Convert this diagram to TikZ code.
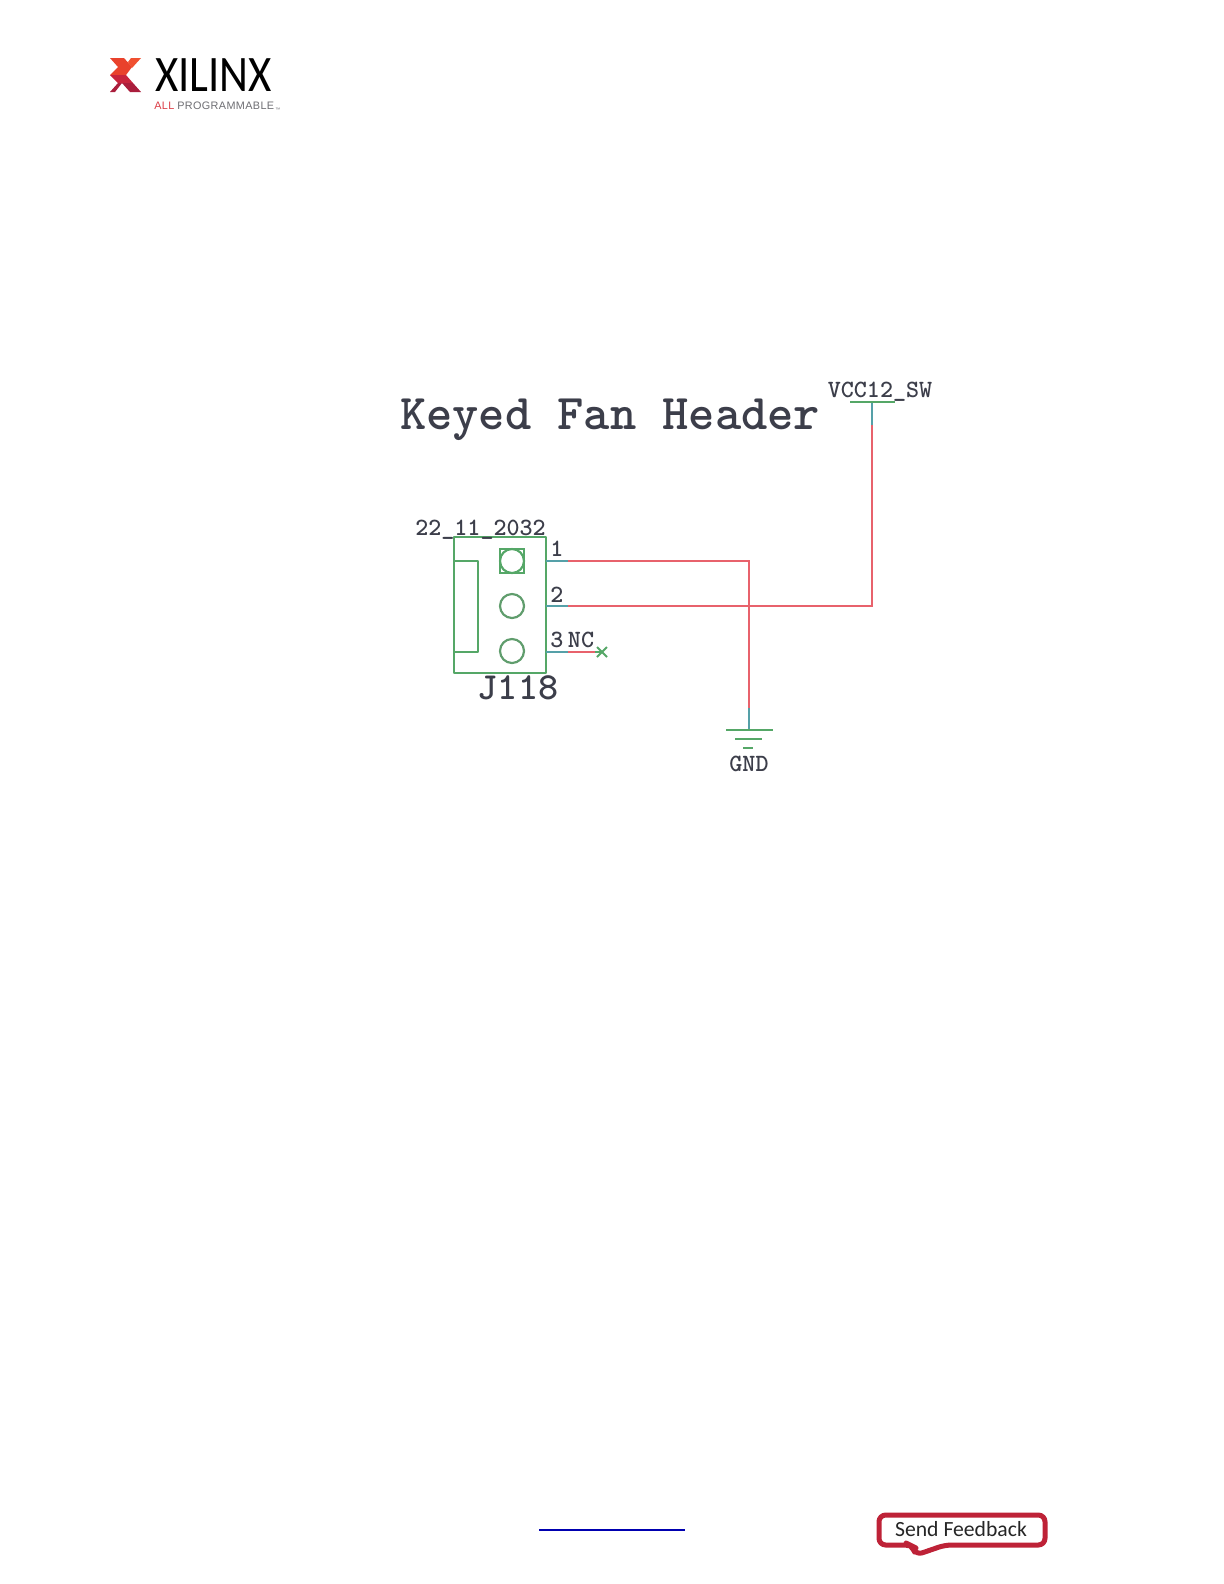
\documentclass[tikz,border=0pt]{standalone}
\usepackage{fontspec}
\setmainfont{Liberation Sans}
\newfontfamily\fbfont{Carlito}
\newfontfamily\xlx[FakeStretch=0.875]{Carlito}
\newfontfamily\allp[LetterSpace=3.5]{Liberation Sans}
\newcommand{\schfont}[2]{\ttfamily\bfseries\fontsize{#1}{#1}\selectfont\addfontfeature{FakeBold=#2}}
\definecolor{sym}{HTML}{55A767}
\definecolor{stub}{HTML}{55A0A8}
\definecolor{wire}{HTML}{E8626C}
\definecolor{ink}{HTML}{3C3E4A}
\definecolor{fb}{HTML}{BE2237}
\tikzset{
  lbl/.style={anchor=base,inner sep=0pt,outer sep=0pt,text=ink},
  small/.style={lbl,font=\schfont{14.9}{2}},
  symline/.style={draw=sym,line width=1.7pt},
  stubline/.style={draw=stub,line width=1.55pt},
  wireline/.style={draw=wire,line width=1.55pt},
}
\begin{document}
\begin{tikzpicture}[x=0.6pt,y=-0.6pt]
\useasboundingbox (0,0) rectangle (1224,1584);
\fill[fill=white] (0,0) rectangle (1224,1584);
% logo
\fill[fill={rgb,255:red,233;green,66;blue,44}] (110,58)--(124,58)--(132,67)--(126,75)--(110,75)--(118,67)--cycle;
\fill[fill={rgb,255:red,240;green,80;blue,48}] (131,58)--(141,58)--(132,68)--(128,62)--cycle;
\fill[fill={rgb,255:red,200;green,36;blue,60}] (110,75)--(126,75)--(133,83)--(122,83)--(118,83)--cycle;
\fill[fill={rgb,255:red,170;green,30;blue,60}] (122,83)--(133,83)--(141,92)--(130,92)--cycle;
\fill[fill={rgb,255:red,170;green,30;blue,60}] (110,92)--(118,83)--(122,83)--(115,92)--cycle;
\node[anchor=base west,inner sep=0pt,font=\xlx\fontsize{30.7}{31}\selectfont] (xilinx) at (155,91) {XILINX};
\node[anchor=base west,inner sep=0pt,text={rgb,255:red,220;green,60;blue,70},font=\allp\fontsize{6.5}{7}\selectfont] (all) at (154,109) {ALL};
\node[anchor=base west,inner sep=0pt,text={rgb,255:red,110;green,110;blue,115},font=\allp\fontsize{6.5}{7}\selectfont] (prog) at (177,109) {PROGRAMMABLE};
\node[anchor=base west,inner sep=0pt,text={rgb,255:red,110;green,110;blue,115},font=\fontsize{3}{3}\selectfont] (tm) at (275,111) {™};
% title
\node[lbl,font=\schfont{30}{1.5}] (title) at (610,429) {Keyed Fan Header};
% connector body
\draw[symline,line join=round] (454,537) rectangle (546,673);
\draw[symline,line join=round] (454,561) -- (478,561) -- (478,652) -- (454,652);
\draw[symline] (500,549) rectangle (524,573);
\node[draw=sym,line width=1.3pt,circle,minimum size=14.4pt,inner sep=0pt] (p1) at (512,561) {};
\node[draw=sym!75!gray,line width=1.3pt,circle,minimum size=14.4pt,inner sep=0pt] (p2) at (512,606) {};
\node[draw=sym!75!gray,line width=1.3pt,circle,minimum size=14.4pt,inner sep=0pt] (p3) at (512,651) {};
% coordinates
\coordinate (a1) at (546,561); \coordinate (b1) at (568,561);
\coordinate (a2) at (546,606); \coordinate (b2) at (568,606);
\coordinate (a3) at (546,652); \coordinate (b3) at (568,652);
\coordinate (c3) at (595,652); \coordinate (nc) at (602,652);
\coordinate (g1) at (749,561); \coordinate (g2) at (749,708); \coordinate (g3) at (749,730);
\coordinate (v1) at (872,606); \coordinate (v2) at (872,425); \coordinate (v3) at (872,402);
% wires
\draw[stubline] (a1) -- (b1);
\draw[stubline] (a2) -- (b2);
\draw[stubline] (a3) -- (b3);
\draw[wireline] (b1) -- (g1) -- (g2);
\draw[wireline] (b2) -- (v1) -- (v2);
\draw[wireline] (b3) -- (c3);
\draw[stubline] (g2) -- (g3);
\draw[stubline] (v2) -- (v3);
\draw[stubline,draw=sym] (c3) -- (nc);
\draw[symline,line width=1.2pt] (597,647) -- (607,657);
\draw[symline,line width=1.2pt] (597,657) -- (607,647);
% power + ground symbols
\draw[symline] (850,402) -- (895,402);
\draw[symline] (726,730) -- (773,730);
\draw[symline] (735,739) -- (762,739);
\draw[symline] (743,748) -- (753,748);
% labels
\node[small] (vcc) at (880,397) {VCC12\_SW};
\node[small] (partno) at (480.5,535) {22\_11\_2032};
\node[lbl,font=\schfont{23}{1.8}] (ref) at (518,699) {J118};
\node[small] (n1) at (557,556) {1};
\node[small] (n2) at (557,602) {2};
\node[small] (n3) at (557,647) {3};
\node[small] (ncl) at (581,647) {NC};
\node[small] (gnd) at (749,771) {GND};
% footer
\coordinate (l1) at (539,1530); \coordinate (l2) at (685,1530);
\draw[draw={rgb,255:red,0;green,0;blue,176},line width=0.7pt] (l1) -- (l2);
\draw[draw=fb,line width=3pt,rounded corners=4pt,line join=round,fill=white]
  (910,1545) -- (879,1545) -- (879,1515) -- (1045,1515) -- (1045,1545) -- (945,1545) -- (916,1555) -- (912,1546) -- cycle;
\node[anchor=base,inner sep=0pt,text=black!85,font=\fbfont\fontsize{13}{14}\selectfont] (fbk) at (961,1536) {Send Feedback};
\end{tikzpicture}
\end{document}
